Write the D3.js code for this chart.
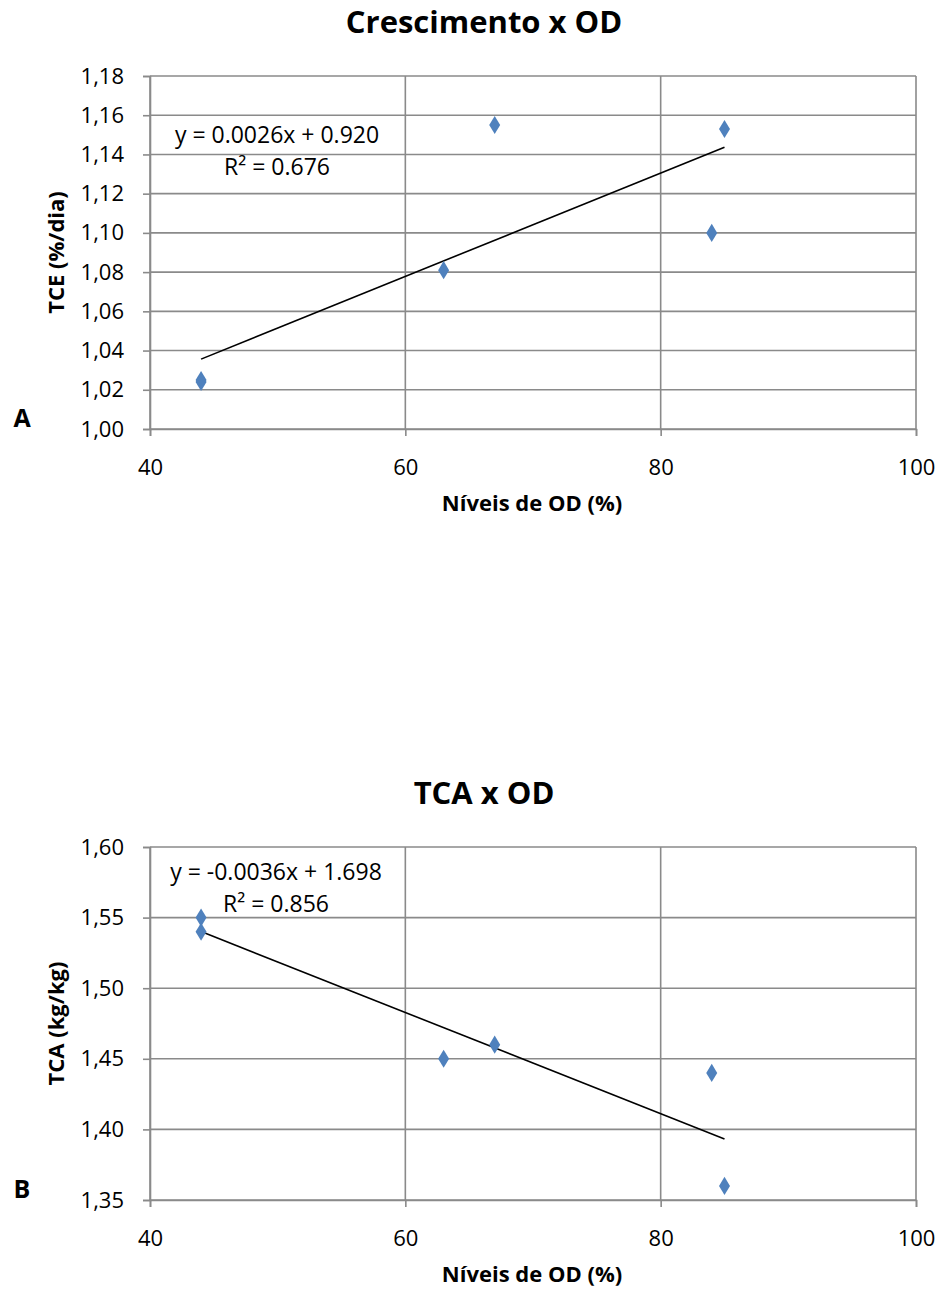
<!DOCTYPE html>
<html><head><meta charset="utf-8">
<script src="https://cdn.jsdelivr.net/npm/d3@7"></script>
<style>
body{margin:0;background:#fff;}
text{font-family:"Open Sans","Lato",sans-serif;fill:#000;}
</style></head><body>
<svg id="c" width="941" height="1291"></svg>
<script>
const xLevels = [44, 44, 63, 67, 84, 85];
const tceValues = [1.025, 1.024, 1.081, 1.155, 1.100, 1.153];
const tcaValues = [1.55, 1.54, 1.45, 1.46, 1.44, 1.36];
const xTicks = [40, 60, 80, 100];
const tceTicks = [1.00,1.02,1.04,1.06,1.08,1.10,1.12,1.14,1.16,1.18];
const tcaTicks = [1.35,1.40,1.45,1.50,1.55,1.60];
const titles = ["Crescimento x OD", "TCA x OD"];
const yTitles = ["TCE (%/dia)", "TCA (kg/kg)"];
const xTitle = "Níveis de OD (%)";
const panelLetters = ["A", "B"];
const equations = [["y = 0.0026x + 0.920", "R² = 0.676"], ["y = -0.0036x + 1.698", "R² = 0.856"]];

const svg = d3.select("#c");
const fmt = v => v.toFixed(2).replace(".", ",");
const GRID = "#8a8a8a";

function regression(xs, ys){
  const n = xs.length, mx = d3.mean(xs), my = d3.mean(ys);
  let sxy = 0, sxx = 0;
  for (let i=0;i<n;i++){ sxy += (xs[i]-mx)*(ys[i]-my); sxx += (xs[i]-mx)**2; }
  const b = sxy/sxx; return {b, a: my - b*mx};
}

function panel(cfg){
  const g = svg.append("g");
  const x = d3.scaleLinear().domain([40,100]).range([150,916]);
  const y = d3.scaleLinear().domain(cfg.domain).range([cfg.bottom, cfg.top]);
  g.append("text").attr("x", 484).attr("y", cfg.titleY).attr("text-anchor","middle")
    .style("font-weight","bold").style("font-size","31px").text(cfg.title);
  g.selectAll(".hg").data(cfg.yTicks).join("line")
    .attr("x1",150).attr("x2",916).attr("y1",d=>y(d)).attr("y2",d=>y(d))
    .attr("stroke",GRID).attr("stroke-width",1.6);
  g.selectAll(".vg").data(xTicks).join("line")
    .attr("y1",cfg.top).attr("y2",cfg.bottom).attr("x1",d=>x(d)).attr("x2",d=>x(d))
    .attr("stroke",GRID).attr("stroke-width",1.6);
  const ya = d3.axisLeft(y).tickValues(cfg.yTicks).tickFormat(fmt).tickSize(7).tickPadding(19);
  const yg = g.append("g").attr("transform","translate(150,0)").call(ya);
  const xa = d3.axisBottom(x).tickValues(xTicks).tickSize(7).tickPadding(23);
  const xg = g.append("g").attr("transform",`translate(0,${cfg.bottom})`).call(xa);
  [yg,xg].forEach(a=>{
    a.select(".domain").attr("stroke",GRID).attr("stroke-width",1.6);
    a.selectAll(".tick line").attr("stroke",GRID).attr("stroke-width",1.6);
    a.selectAll("text").style("font-size","22px").style("font-family","'Open Sans',sans-serif").attr("fill","#000");
  });
  g.append("text").attr("x",532).attr("y",cfg.bottom+82).attr("text-anchor","middle")
    .style("font-weight","bold").style("font-size","22px").text(xTitle);
  g.append("text").attr("transform",`translate(64,${(cfg.top+cfg.bottom)/2}) rotate(-90)`)
    .attr("text-anchor","middle").style("font-weight","bold").style("font-size","22px").text(cfg.yTitle);
  g.append("text").attr("x",22).attr("y",cfg.bottom-2).attr("text-anchor","middle")
    .style("font-weight","bold").style("font-size","25px").text(cfg.letter);
  const r = regression(xLevels, cfg.values);
  const x0 = d3.min(xLevels), x1 = d3.max(xLevels);
  g.append("line").attr("x1",x(x0)).attr("x2",x(x1))
    .attr("y1",y(r.a+r.b*x0)).attr("y2",y(r.a+r.b*x1))
    .attr("stroke","#000").attr("stroke-width",1.6);
  g.selectAll(".pt").data(xLevels.map((v,i)=>[v,cfg.values[i]])).join("path")
    .attr("d", d3.symbol(d3.symbolDiamond, 95))
    .attr("transform", d=>`translate(${x(d[0])},${y(d[1])}) scale(1.05,1)`)
    .attr("fill","#4f81bd");
  g.append("text").attr("x",cfg.eqX).attr("y",cfg.eqY).attr("text-anchor","middle")
    .style("font-size","23px").text(cfg.eq[0]);
  g.append("text").attr("x",cfg.eqX).attr("y",cfg.eqY+32).attr("text-anchor","middle")
    .style("font-size","23px").text(cfg.eq[1]);
}

panel({title:titles[0], titleY:33, domain:[1.00,1.18], top:76, bottom:429, yTicks:tceTicks,
  values:tceValues, yTitle:yTitles[0], letter:panelLetters[0], eq:equations[0], eqX:277, eqY:143});
panel({title:titles[1], titleY:804, domain:[1.35,1.60], top:847, bottom:1200, yTicks:tcaTicks,
  values:tcaValues, yTitle:yTitles[1], letter:panelLetters[1], eq:equations[1], eqX:276, eqY:880});
</script></body></html>
